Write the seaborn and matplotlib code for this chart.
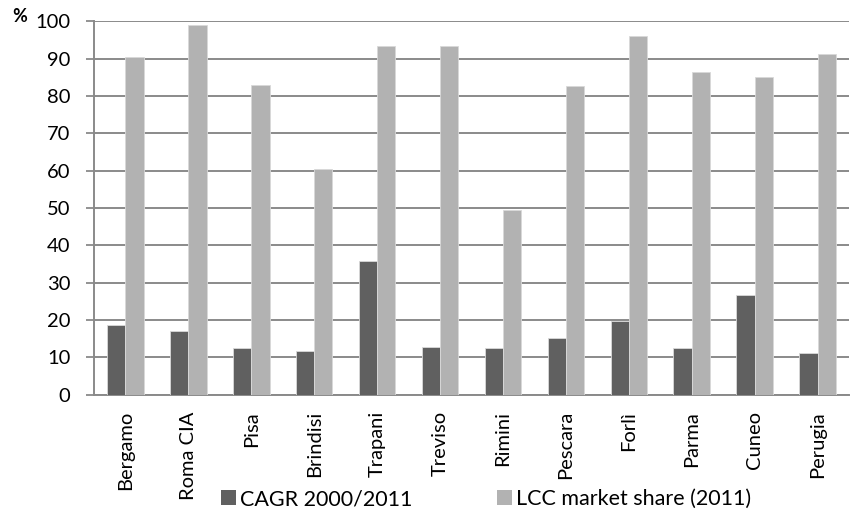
import matplotlib
matplotlib.use("Agg")
import matplotlib.pyplot as plt
import seaborn as sns
import pandas as pd
from matplotlib.patches import Patch

airports = ["Bergamo", "Roma CIA", "Pisa", "Brindisi", "Trapani", "Treviso",
            "Rimini", "Pescara", "Forlì", "Parma", "Cuneo", "Perugia"]
cagr = [18.7, 17.0, 12.5, 11.7, 35.8, 12.8, 12.5, 15.2, 19.7, 12.5, 26.6, 11.2]
lcc_share = [90.5, 99.0, 82.9, 60.5, 93.4, 93.4, 49.5, 82.7, 96.1, 86.5, 85.1, 91.3]
series_names = ["CAGR 2000/2011", "LCC market share (2011)"]
y_ticks = list(range(0, 101, 10))

df = pd.DataFrame({
    "airport": airports * 2,
    "value": cagr + lcc_share,
    "series": [series_names[0]] * len(airports) + [series_names[1]] * len(airports),
})

sns.set_theme(style="white")
plt.rcParams["font.family"] = ["Lato", "DejaVu Sans"]
plt.rcParams["text.color"] = "black"

colors = ["#606060", "#b2b2b2"]
fig = plt.figure(figsize=(8.51, 5.13), dpi=100)
ax = fig.add_axes([94 / 851, 1 - 394.5 / 513, (849 - 94) / 851, (394.5 - 21.3) / 513])

sns.barplot(data=df, x="airport", y="value", hue="series", palette=colors,
            width=0.58, saturation=1, ax=ax, legend=False,
            edgecolor="#d9d9d9", linewidth=0.6, zorder=3)

ax.set_ylim(0, 100)
ax.set_xlim(-0.5, len(airports) - 0.5)
ax.set_yticks(y_ticks)
ax.set_yticklabels([str(v) for v in y_ticks], fontsize=14.5, color="black")
ax.yaxis.grid(True, color="#8a8a8a", linewidth=1.4, zorder=0)
ax.set_axisbelow(True)
ax.set_xlabel("")
ax.set_ylabel("")

ax.set_xticks(range(len(airports)))
ax.set_xticklabels(airports, rotation=90, fontsize=14.5, color="black")
ax.set_xticks([i - 0.5 for i in range(len(airports) + 1)], minor=True)
ax.tick_params(axis="x", which="major", length=0, pad=12)
ax.tick_params(axis="x", which="minor", length=5, width=1.3, color="#8a8a8a", direction="out")
ax.tick_params(axis="y", which="major", length=6, width=1.3, color="#8a8a8a",
               direction="out", left=True, pad=11)

for side in ["top", "right"]:
    ax.spines[side].set_visible(False)
for side in ["left", "bottom"]:
    ax.spines[side].set_color("#8a8a8a")
    ax.spines[side].set_linewidth(1.4)

fig.text(12 / 851, 1 - 17 / 513, "%", fontsize=13, fontweight="bold", va="center", ha="left")

handles = [Patch(facecolor=c, edgecolor="none") for c in colors]
fig.legend(handles, series_names, loc="center", bbox_to_anchor=(486 / 851, 1 - 499 / 513),
           ncol=2, frameon=False, fontsize=15.5, handlelength=0.7, handleheight=0.7,
           handletextpad=0.2, columnspacing=3.9, borderpad=0.1)

fig.savefig("out.png", dpi=100)
